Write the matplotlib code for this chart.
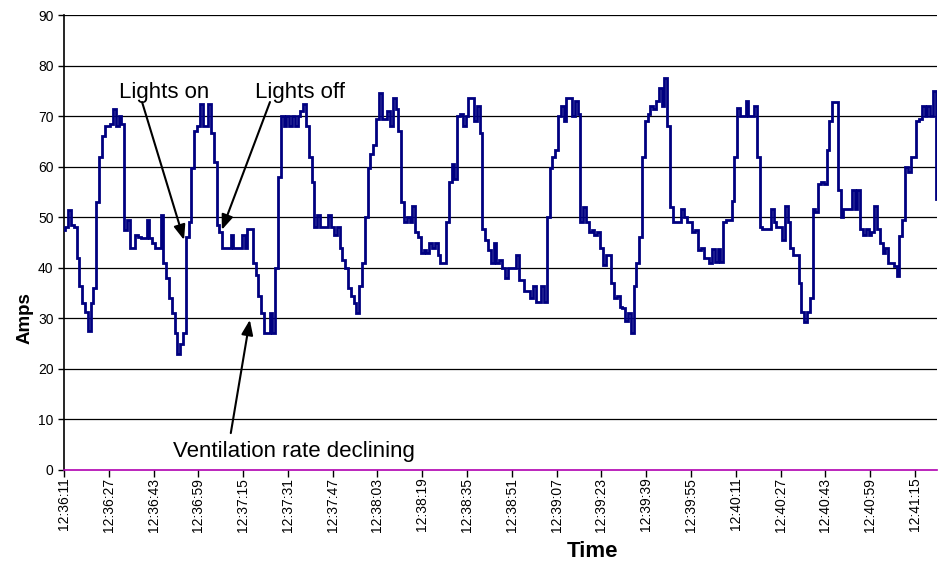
import matplotlib
matplotlib.use("Agg")
import matplotlib.pyplot as plt
import numpy as np

plt.rcParams['font.family'] = ['Liberation Sans', 'DejaVu Sans']

# -----------------------------
# Data: one reading per second, starting 12:36:11
# -----------------------------
amps = [
    # 12:36:11
    47.5, 48, 51.5, 48.5, 48, 42, 36.5, 33, 31.2, 27.5,
    33, 36, 53, 62, 66, 68, 68, 68.5, 71.5, 68,
    70, 68.5, 47.5, 49.5, 44, 44, 46.5, 46, 45.8, 45.8,
    49.5, 45.8, 45, 44, 44, 50.5, 41, 38, 34, 31,
    27.2, 23, 25, 27.2, 46, 49, 59.7, 67, 68, 72.5,
    68, 68, 72.5, 66.6, 61, 48.4, 47, 44, 44, 44,
    46.5, 44, 44, 44, 46.5, 44, 47.7, 47.7, 41, 38.5,
    34.5, 31, 27.2, 27.2, 31, 27.2, 40, 58, 70, 68,
    70, 68, 70, 68, 70, 71, 72.5, 68, 62, 57,
    48, 50.5, 48, 48, 48, 50.5, 48, 46.5, 48, 44,
    41.5, 40, 36, 34.5, 33, 31, 36.5, 41, 50, 59.7,
    62.5, 64.3, 69.5, 74.5, 69.5, 69.5, 71, 68, 73.5, 71.5,
    67, 53, 49, 50, 49, 52.3, 47, 46, 43, 43.5,
    43, 45, 44, 45, 42.5, 41, 41, 49, 57, 60.5,
    57.5, 70, 70.5, 68, 70, 73.6, 73.6, 69, 72, 66.6,
    47.7, 45.5, 43.5, 41, 45, 41, 41.5, 40, 38, 40,
    40, 40, 42.5, 37.5, 37.5, 35.5, 35.5, 34, 36.5, 33.2,
    33.2, 36.5, 33.2, 50, 59.7, 62, 63.4, 70, 72, 69,
    73.5, 73.5, 70, 73, 70.5, 49, 52, 49, 47, 47.5,
    46.5, 47, 44, 40.5, 42.5, 42.5, 37, 34, 34.5, 32.2,
    32, 29.5, 31, 27.2, 36.5, 41, 46, 62, 69, 70.5,
    72, 71.5, 73, 75.6, 72, 77.6, 68, 52, 49, 49,
    49, 51.7, 50, 49, 49, 47, 47.5, 43.5, 44, 42,
    42, 41, 43.8, 41.2, 43.8, 41.2, 49, 49.5, 49.5, 53.3,
    62, 71.7, 70, 70, 73, 70, 70, 72, 62, 48,
    47.7, 47.7, 47.7, 51.7, 49, 48, 48, 45.5, 52.3, 49,
    44, 42.5, 42.5, 37, 31.2, 29.2, 31.2, 34, 51.7, 51,
    56.5, 57, 56.5, 63.4, 69, 72.8, 72.8, 55.4, 50, 51.7,
    51.7, 51.7, 55.4, 51.7, 55.4, 47.7, 46.5, 47.7, 46.5, 47,
    52.3, 47.7, 45, 43, 44, 41, 41, 40.3, 38.4, 46.2,
    49.4, 60, 59, 62, 62, 69, 69.5, 72, 70, 72,
    70, 75, 53.7,
]

time_labels = [
    "12:36:11", "12:36:27", "12:36:43", "12:36:59", "12:37:15",
    "12:37:31", "12:37:47", "12:38:03", "12:38:19", "12:38:35",
    "12:38:51", "12:39:07", "12:39:23", "12:39:39", "12:39:55",
    "12:40:11", "12:40:27", "12:40:43", "12:40:59", "12:41:15",
]
label_step = 16

# -----------------------------
# Plot
# -----------------------------
fig = plt.figure(figsize=(9.38, 5.63), dpi=100)
ax = fig.add_axes([0.0682, 0.1652, 0.931, 0.808])

t = np.arange(len(amps))
ax.plot(t, amps, color="#000080", lw=2.0, drawstyle="steps-mid",
        solid_joinstyle="miter", zorder=3)

ax.set_xlim(0, len(amps) - 1)
ax.set_ylim(0, 90)
ax.set_yticks(range(0, 91, 10))
for v in range(10, 91, 10):
    ax.axhline(v, color="black", lw=0.9, zorder=1)

ax.set_xticks(np.arange(len(time_labels)) * label_step)
ax.set_xticklabels(time_labels, rotation=90, fontsize=10)
ax.tick_params(axis="y", labelsize=10, length=4, width=1, direction="out")
ax.tick_params(axis="x", length=5, width=1, direction="out", pad=0.5)

for s in ["top", "right"]:
    ax.spines[s].set_visible(False)
ax.spines["left"].set_linewidth(1.2)
ax.spines["bottom"].set_linewidth(1.2)
ax.spines["bottom"].set_color("#B000B0")

fig.text(0.027, 0.435, "Amps", rotation=90, ha="center", va="center",
         fontsize=13.5, fontweight="bold")
fig.text(0.632, 0.021, "Time", ha="center", va="center",
         fontsize=16, fontweight="bold")

# annotations
arrow = dict(arrowstyle="-|>,head_length=0.9,head_width=0.35", color="black",
             lw=1.5, shrinkA=0, shrinkB=0)
ax.text(35.7, 74.6, "Lights on", fontsize=16, ha="center", va="center")
ax.annotate("", xy=(42.9, 45.5), xytext=(27.9, 72.8), arrowprops=arrow)
ax.text(84.3, 74.6, "Lights off", fontsize=16, ha="center", va="center")
ax.annotate("", xy=(56.4, 47.5), xytext=(73.6, 72.8), arrowprops=arrow)
ax.text(82.1, 3.6, "Ventilation rate declining", fontsize=16,
        ha="center", va="center")
ax.annotate("", xy=(66.4, 29.7), xytext=(59.6, 7.3), arrowprops=arrow)

fig.savefig("out.png", dpi=100)
